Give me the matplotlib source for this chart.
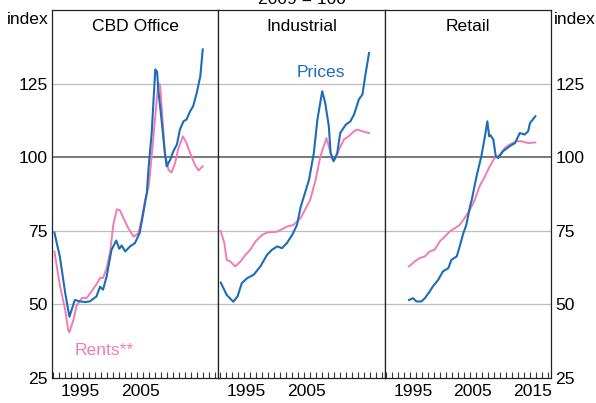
import matplotlib.pyplot as plt

plt.rcParams["font.family"] = ["Liberation Sans", "DejaVu Sans"]
plt.rcParams["font.size"] = 12.6

BLUE = "#1b6db8"
PINK = "#f07cb4"

# CBD office
cbd_price_yr = [1991.2, 1992.1, 1993.0, 1993.7, 1994.6, 1995.5, 1996.3, 1997.1, 1998.2, 1998.8,
                1999.3, 1999.9, 2000.7, 2001.5, 2002.0, 2002.4, 2003.0, 2003.8, 2004.6, 2005.4,
                2006.0, 2006.6, 2006.9, 2007.4, 2008.0, 2008.3, 2008.5, 2009.1, 2009.6, 2009.9,
                2010.5, 2011.0, 2011.6, 2012.1, 2012.7, 2013.2, 2013.8, 2014.3, 2014.9, 2015.5, 2015.9]
cbd_price = [74.4, 66.3, 53.9, 45.8, 51.5, 51.0, 50.8, 51.0, 52.7, 56.0,
             55.0, 59.5, 68.5, 71.7, 68.9, 70.0, 68.0, 69.7, 70.8, 74.3,
             81.0, 88.0, 96.9, 108.2, 129.8, 129.0, 123.0, 111.6, 101.4, 96.9,
             99.2, 102.0, 104.3, 109.4, 112.2, 112.8, 115.6, 117.3, 121.8, 127.5, 136.6]
cbd_rent_yr = [1991.2, 1992.1, 1993.0, 1993.5, 1993.7, 1994.4, 1994.9, 1995.8, 1996.6, 1997.4,
               1998.2, 1998.8, 1999.3, 1999.9, 2000.5, 2001.0, 2001.6, 2002.1, 2002.7, 2003.5,
               2004.4, 2005.2, 2005.7, 2006.3, 2006.9, 2007.4, 2008.0, 2008.5, 2008.8, 2009.1,
               2009.6, 2010.2, 2010.7, 2011.3, 2011.8, 2012.6, 2013.2, 2013.8, 2014.6, 2015.2, 2015.9]
cbd_rent = [68.0, 56.6, 48.1, 41.3, 40.5, 45.0, 49.6, 52.2, 52.2, 54.5,
            56.8, 59.0, 59.0, 62.3, 68.0, 77.0, 82.3, 82.0, 79.3, 75.9,
            73.0, 74.2, 78.7, 85.5, 90.0, 100.3, 113.9, 125.2, 124.5, 116.2,
            101.4, 95.7, 94.8, 98.0, 102.6, 107.1, 104.8, 101.4, 97.4, 95.5, 96.9]

# Industrial
ind_price_yr = [1991.2, 1992.2, 1993.3, 1994.0, 1994.7, 1995.6, 1996.7, 1997.8, 1998.9, 1999.7,
                2000.6, 2001.4, 2002.2, 2003.1, 2003.9, 2004.5, 2005.9, 2006.7, 2007.3, 2008.1,
                2008.6, 2009.2, 2009.5, 2010.0, 2010.6, 2011.1, 2012.0, 2012.8, 2013.4, 2014.2,
                2014.8, 2015.3, 2015.9]
ind_price = [57.4, 53.2, 50.9, 52.7, 57.2, 58.9, 60.1, 62.9, 66.8, 68.5,
             69.7, 69.1, 70.8, 73.6, 77.0, 83.0, 92.3, 101.4, 112.8, 122.4,
             118.4, 110.5, 101.4, 98.6, 101.4, 108.2, 111.0, 112.2, 114.5, 119.6,
             121.3, 128.1, 135.4]
ind_rent_yr = [1991.2, 1991.8, 1992.2, 1992.8, 1993.6, 1994.5, 1995.3, 1996.1, 1997.0, 1998.1,
               1998.9, 2000.6, 2002.2, 2003.3, 2004.5, 2006.1, 2007.0, 2007.8, 2008.8, 2009.2,
               2009.8, 2010.3, 2010.9, 2011.7, 2012.5, 2013.4, 2013.9, 2014.8, 2015.9]
ind_rent = [74.9, 70.8, 65.1, 64.6, 62.9, 64.6, 66.8, 68.5, 71.4, 73.6,
            74.4, 74.7, 76.4, 77.0, 79.3, 85.5, 92.3, 100.3, 106.5, 103.7,
            99.2, 99.5, 102.6, 106.0, 107.1, 108.8, 109.4, 108.8, 108.2]

# Retail
ret_price_yr = [1994.85, 1995.5, 1996.1, 1996.9, 1997.5, 1998.3, 1998.9, 1999.7, 2000.5, 2001.4,
                2001.9, 2002.8, 2003.3, 2003.9, 2004.4, 2005.0, 2005.3, 2006.1, 2006.9, 2007.5,
                2007.9, 2008.2, 2008.4, 2008.9, 2009.3, 2009.7, 2010.5, 2011.6, 2012.5, 2013.3,
                2014.1, 2014.7, 2015.0, 2015.9]
ret_price = [51.5, 52.1, 51.0, 51.0, 52.1, 54.4, 56.3, 58.3, 61.2, 62.3,
             65.1, 66.3, 69.7, 74.2, 77.0, 83.2, 85.5, 93.5, 100.3, 107.1,
             112.2, 107.1, 107.5, 106.0, 100.3, 99.7, 102.0, 103.7, 104.8, 108.2,
             107.7, 108.8, 111.6, 113.9]
ret_rent_yr = [1994.85, 1995.8, 1996.6, 1997.5, 1998.3, 1999.1, 2000.0, 2000.8, 2001.6, 2002.5,
               2003.3, 2004.1, 2005.0, 2005.8, 2006.6, 2007.5, 2008.3, 2009.1, 2010.0, 2010.8,
               2011.6, 2012.8, 2013.6, 2014.7, 2015.9]
ret_rent = [62.9, 64.6, 65.7, 66.3, 68.0, 68.5, 71.4, 73.0, 74.7, 75.9,
            77.0, 79.3, 82.1, 85.5, 90.1, 93.5, 96.9, 99.7, 100.9, 103.1,
            104.3, 105.4, 105.4, 104.8, 105.0]

titles = ["CBD Office", "Industrial", "Retail"]
prices = [(cbd_price_yr, cbd_price), (ind_price_yr, ind_price), (ret_price_yr, ret_price)]
rents = [(cbd_rent_yr, cbd_rent), (ind_rent_yr, ind_rent), (ret_rent_yr, ret_rent)]
year_labels = [[1995, 2005], [1995, 2005], [1995, 2005, 2015]]
y_ticks = [25, 50, 75, 100, 125]

fig = plt.figure(figsize=(5.96, 4.03), dpi=100)
W, H = 596, 403
left, right, top, bottom = 52, 551, 10, 378
pw = (right - left) / 3

axes = []
for i in range(3):
    ax = fig.add_axes([(left + i * pw) / W, 1 - bottom / H, pw / W, (bottom - top) / H])
    axes.append(ax)
    for g in [50, 75, 125]:
        ax.axhline(g, color="#bdbdbd", lw=0.9, zorder=1)
    ax.axhline(100, color="#555555", lw=1.1, zorder=1)
    ax.plot(*rents[i], color=PINK, lw=1.4, zorder=3)
    ax.plot(*prices[i], color=BLUE, lw=1.5, zorder=4)
    ax.set_xlim(1990.8, 2018.5)
    ax.set_ylim(25, 150)
    ax.set_xticks(range(1991, 2019), minor=True)
    ax.set_xticks([y + 0.5 for y in year_labels[i]])
    ax.set_xticklabels([str(y) for y in year_labels[i]])
    ax.tick_params(axis="x", which="minor", direction="in", length=4, width=0.8, color="#333333")
    ax.tick_params(axis="x", which="major", length=0, pad=4)
    ax.set_yticks(y_ticks)
    for s in ax.spines.values():
        s.set_linewidth(0.9)
        s.set_color("#222222")
    ax.text(0.5, 0.955, titles[i], transform=ax.transAxes, ha="center", va="center")
    if i == 0:
        ax.tick_params(axis="y", length=0, pad=3, labelleft=True, labelright=False)
    elif i == 2:
        ax.tick_params(axis="y", length=0, pad=3, labelleft=False, labelright=True)
    else:
        ax.tick_params(axis="y", length=0, labelleft=False)

axes[1].text(2003.8, 128.7, "Prices", color=BLUE, ha="left", va="center")
axes[0].text(1994.6, 34.5, "Rents**", color=PINK, ha="left", va="center")

fig.text(28 / W, 1 - 20 / H, "index", ha="center", va="center")
fig.text(575 / W, 1 - 20 / H, "index", ha="center", va="center")
fig.text(302 / W, 1 - 4 / H, "2009 = 100", ha="center", va="baseline")

fig.savefig("out.png", dpi=100)
